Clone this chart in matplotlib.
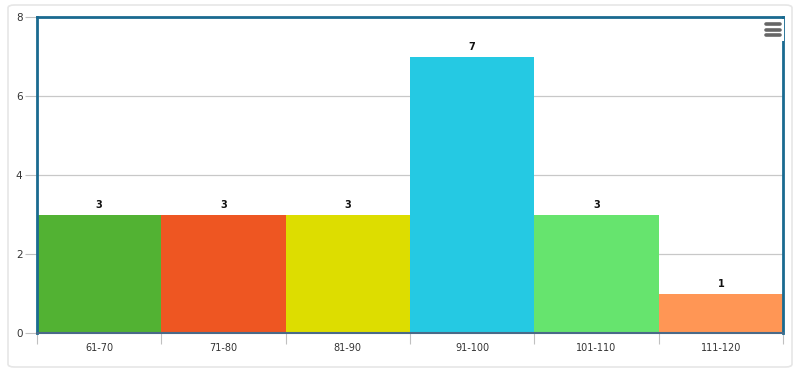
import matplotlib.pyplot as plt
from matplotlib.patches import FancyBboxPatch, Rectangle
from matplotlib.lines import Line2D

categories = ["61-70", "71-80", "81-90", "91-100", "101-110", "111-120"]
counts = [3, 3, 3, 7, 3, 1]
colors = ["#52b233", "#ee5622", "#dddd00", "#25c9e3", "#66e46e", "#ff9655"]
yticks = [0, 2, 4, 6, 8]

fig = plt.figure(figsize=(7.95, 3.7), dpi=100)

# outer rounded frame
frame = FancyBboxPatch((8 / 795, 3 / 370), 784 / 795, 362 / 370,
                       boxstyle="round,pad=0,rounding_size=0.008",
                       transform=fig.transFigure, facecolor="none",
                       edgecolor="#e6e6e6", linewidth=1.2, zorder=-1)
fig.patches.append(frame)

ax = fig.add_axes([37 / 795, 1 - 333 / 370, 746 / 795, 316 / 370])
x = range(len(categories))
ax.bar(x, counts, width=1.0, color=colors, zorder=2)
for xi, v in zip(x, counts):
    ax.text(xi, v + 0.12, str(v), ha="center", va="bottom",
            fontsize=7, fontweight="bold", color="#111111")

ax.set_xlim(-0.5, len(categories) - 0.5)
ax.set_ylim(0, 8)
ax.set_yticks(yticks)
ax.set_yticklabels([str(t) for t in yticks], fontsize=7.5, color="#333333")
ax.tick_params(axis="y", length=9, color="#c0c0c0", pad=1.5)
ax.yaxis.grid(True, color="#c8c8c8", linewidth=0.9, zorder=1)
ax.set_axisbelow(True)

ax.set_xticks([i + 0.5 for i in range(-1, len(categories))], minor=False)
ax.set_xticklabels([])
ax.set_xticks(list(x), minor=True)
ax.set_xticklabels(categories, minor=True, fontsize=7, color="#333333")
ax.tick_params(axis="x", which="major", length=8, color="#c0c0c0")
ax.tick_params(axis="x", which="minor", length=0, pad=7)

for side in ["left", "right", "top"]:
    ax.spines[side].set_color("#1a6a90")
    ax.spines[side].set_linewidth(2)
ax.spines["bottom"].set_color("#4a6a88")
ax.spines["bottom"].set_linewidth(1.5)

# menu icon
fig.patches.append(Rectangle((758 / 795, 1 - 41 / 370), 26 / 795, 22 / 370,
                             transform=fig.transFigure, facecolor="white",
                             edgecolor="none", zorder=5))
for yy in [24, 29.5, 35]:
    fig.lines.append(Line2D([766 / 795, 780 / 795], [1 - yy / 370] * 2,
                            transform=fig.transFigure, color="#666666",
                            linewidth=2.6, solid_capstyle="round", zorder=6))

fig.savefig("out.png", dpi=100)
